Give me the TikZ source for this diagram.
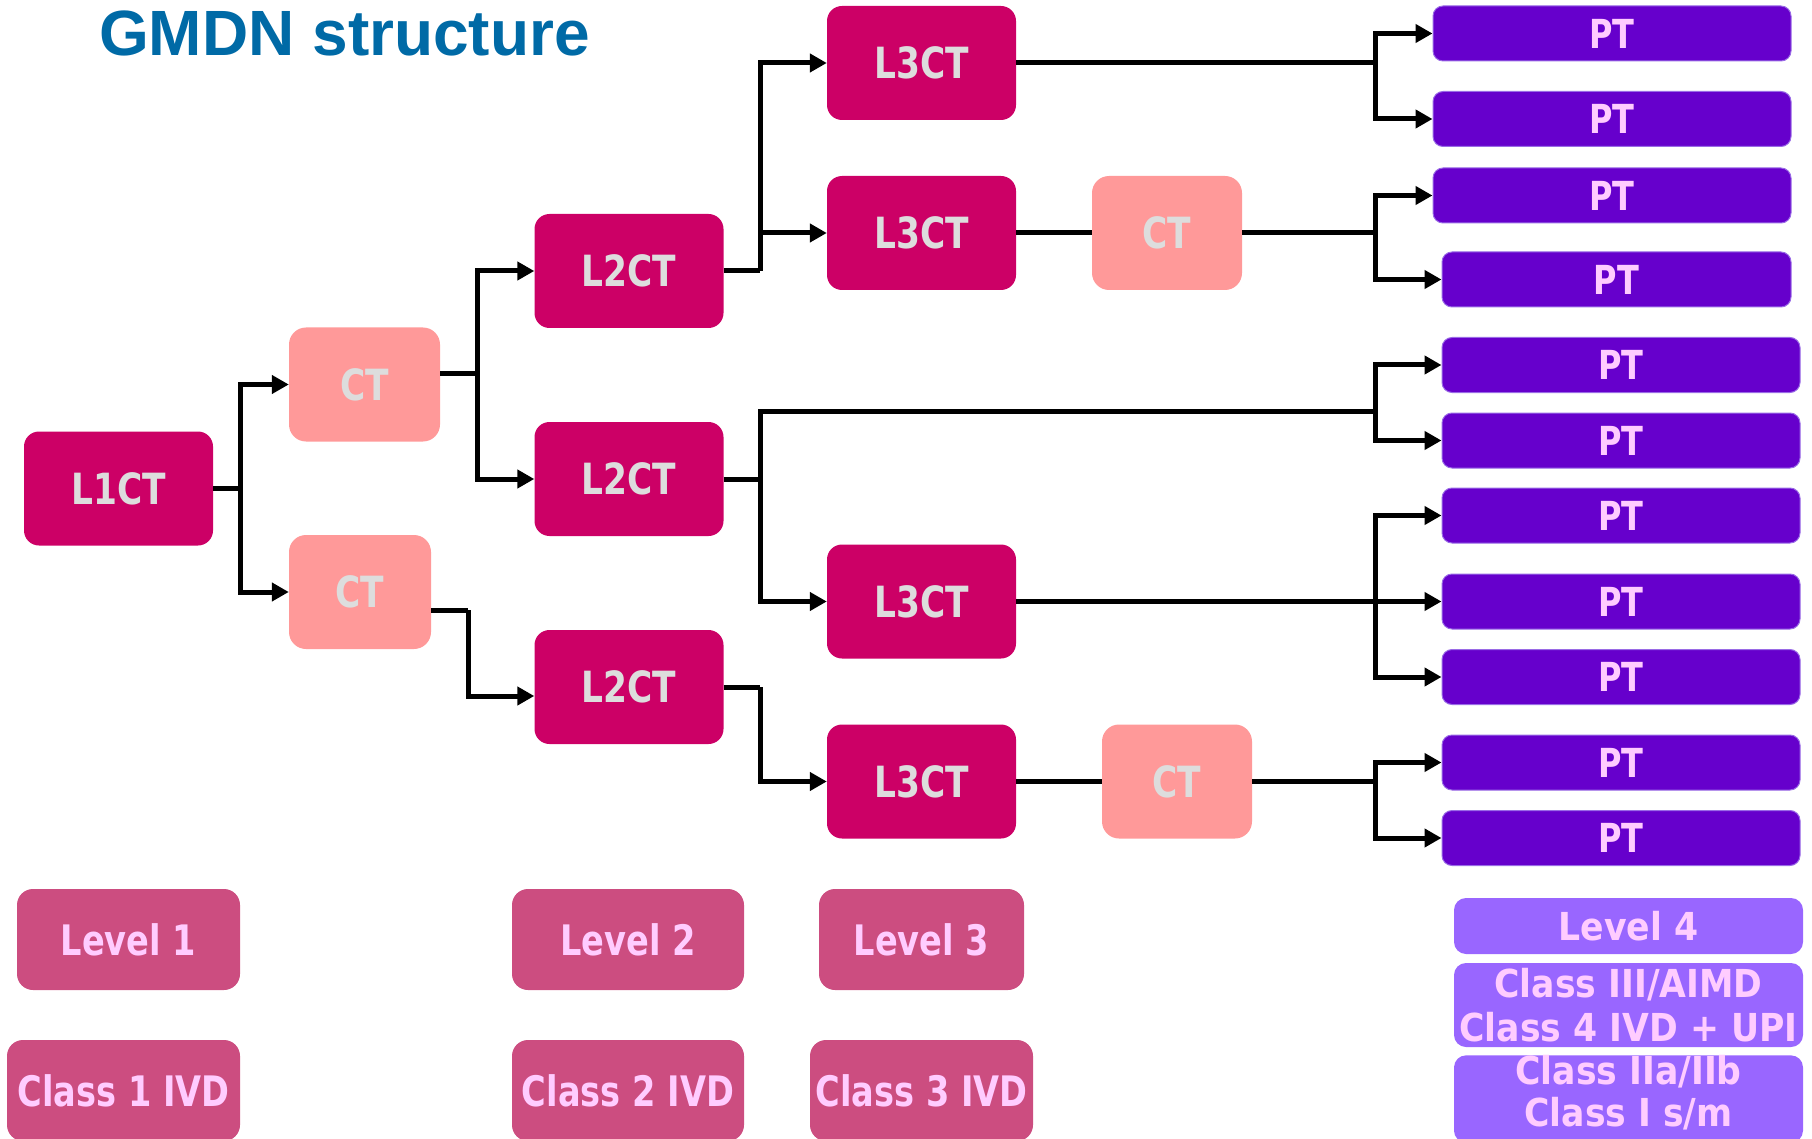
\documentclass[tikz,border=0pt]{standalone}
\usepackage{fontspec}
\usetikzlibrary{arrows.meta}
\newfontfamily\boxfont{DejaVu Sans}[FakeStretch=0.8]
\newfontfamily\lfourfont{DejaVu Sans}[FakeStretch=0.9]
\newfontfamily\titlefont{Liberation Sans}
\definecolor{lctcol}{HTML}{CC0066}
\definecolor{ctcol}{HTML}{FF9999}
\definecolor{ptcol}{HTML}{6600CC}
\definecolor{ptedge}{HTML}{9A6BE6}
\definecolor{levcol}{HTML}{CC4D80}
\definecolor{levfour}{HTML}{9966FF}
\definecolor{graytext}{HTML}{DDDDDD}
\definecolor{pinktext}{HTML}{FFCCFF}
\definecolor{titlecol}{HTML}{006AA6}
\begin{document}
\begin{tikzpicture}[x=1pt,y=-1pt,
  box/.style={rectangle, inner sep=0pt, align=center},
  lct/.style={box, fill=lctcol, rounded corners=15pt, minimum width=189pt, minimum height=114pt,
    text=graytext, font=\boxfont\bfseries\fontsize{43}{50}\selectfont},
  ctbox/.style={box, fill=ctcol, rounded corners=17pt, minimum width=150pt, minimum height=114pt,
    text=graytext, font=\boxfont\bfseries\fontsize{43}{50}\selectfont},
  ptbox/.style={box, fill=ptcol, draw=ptedge, line width=1pt, rounded corners=10pt, minimum width=358pt, minimum height=55pt,
    text=pinktext, font=\boxfont\bfseries\fontsize{40}{48}\selectfont},
  levbox/.style={box, fill=levcol, rounded corners=16pt, minimum height=101pt,
    text=pinktext, font=\boxfont\bfseries\fontsize{42}{50}\selectfont},
  levfourbox/.style={box, fill=levfour, rounded corners=12pt, minimum width=349pt,
    text=pinktext, font=\lfourfont\bfseries\fontsize{38.5}{44}\selectfont},
  conn/.style={line width=5pt, draw=black},
  arr/.style={conn, -{Triangle[length=17pt,width=18pt]}}
]
\useasboundingbox (0,0) rectangle (1812,1139);
\clip (0,0) rectangle (1812,1139);

% title
\node[anchor=base west, inner sep=0pt, text=titlecol,
  font=\titlefont\bfseries\fontsize{64}{72}\selectfont] (title) at (99,56) {GMDN structure};

% level 1
\node[lct] (l1) at (118.5,488.5) {L1CT};
% CT
\node[ctbox, minimum width=151pt] (ct1) at (364.5,384.5) {CT};
\node[ctbox, minimum width=142pt] (ct2) at (360,592) {CT};
% level 2
\node[lct] (l2a) at (629,271) {L2CT};
\node[lct] (l2b) at (629,479) {L2CT};
\node[lct] (l2c) at (629,687) {L2CT};
% level 3
\node[lct] (l3a) at (921.5,63) {L3CT};
\node[lct] (l3b) at (921.5,233) {L3CT};
\node[lct] (l3c) at (921.5,601.5) {L3CT};
\node[lct] (l3d) at (921.5,781.5) {L3CT};
% right CT
\node[ctbox] (cr1) at (1167,233) {CT};
\node[ctbox] (cr2) at (1177,781.5) {CT};
% PT boxes
\node[ptbox] (pt1) at (1612,33.5) {PT};
\node[ptbox] (pt2) at (1612,119) {PT};
\node[ptbox] (pt3) at (1612,195.5) {PT};
\node[ptbox, minimum width=349pt] (pt4) at (1616.5,279.5) {PT};
\node[ptbox] (pt5) at (1621,365) {PT};
\node[ptbox] (pt6) at (1621,440.5) {PT};
\node[ptbox] (pt7) at (1621,515.5) {PT};
\node[ptbox] (pt8) at (1621,601.5) {PT};
\node[ptbox] (pt9) at (1621,677) {PT};
\node[ptbox] (pt10) at (1621,762.5) {PT};
\node[ptbox] (pt11) at (1621,838) {PT};

% legend boxes
\node[levbox, minimum width=223pt] (lev1) at (128.5,939.5) {Level 1};
\node[levbox, minimum width=233pt] (cls1) at (123.5,1090.5) {Class 1 IVD};
\node[levbox, minimum width=232pt] (lev2) at (628,939.5) {Level 2};
\node[levbox, minimum width=232pt] (cls2) at (628,1090.5) {Class 2 IVD};
\node[levbox, minimum width=205pt] (lev3) at (921.5,939.5) {Level 3};
\node[levbox, minimum width=223pt] (cls3) at (921.5,1090.5) {Class 3 IVD};
\node[levfourbox, minimum height=56pt] (lev4) at (1628.5,926) {Level 4};
\node[levfourbox, minimum height=84pt] (cls4) at (1628.5,1005) {Class III/AIMD\\Class 4 IVD + UPI};
\node[levfourbox, minimum height=84pt, font=\lfourfont\bfseries\fontsize{38.5}{42}\selectfont,
  text depth=16pt] (cls5) at (1628.5,1099) {Class IIa/IIb\\Class I s/m};

% connectors
\coordinate (b1) at (240,488.5);
\draw[conn] (l1.east) -- (b1);
\draw[arr] (b1) |- (ct1.west);
\draw[arr] (b1) |- (ct2.west);

\coordinate (b2) at (477,374);
\draw[conn] (ct1.east |- b2) -- (b2);
\draw[arr] (b2) |- (l2a.west);
\draw[arr] (b2) |- (l2b.west);

\coordinate (b3) at (468,610);
\draw[conn] (ct2.east |- b3) -- (b3);
\draw[arr] (b3) |- ([yshift=-9pt]l2c.west);

\coordinate (b4) at (760,271);
\draw[conn] (l2a.east) -- (b4);
\draw[arr] (b4) |- (l3a.west);
\draw[arr] (b4) |- (l3b.west);

\coordinate (b5) at (760,479);
\coordinate (b5t) at (1375,411);
\draw[conn] (l2b.east) -- (b5);
\draw[conn] (b5) |- (b5t);
\draw[arr] (b5t) |- (pt5.west);
\draw[arr] (b5t) |- (pt6.west);
\draw[arr] (b5) |- (l3c.west);

\coordinate (b6) at (760,687);
\draw[conn] (l2c.east) -- (b6);
\draw[arr] (b6) |- (l3d.west);

\coordinate (b7) at (1375,63);
\draw[conn] (l3a.east) -- (b7);
\draw[arr] (b7) |- (pt1.west);
\draw[arr] (b7) |- (pt2.west);

\draw[conn] (l3b.east) -- (cr1.west);
\coordinate (b8) at (1375,233);
\draw[conn] (cr1.east) -- (b8);
\draw[arr] (b8) |- (pt3.west);
\draw[arr] (b8) |- (pt4.west);

\coordinate (b9) at (1375,601.5);
\draw[arr] (l3c.east) -- (pt8.west);
\draw[arr] (b9) |- (pt7.west);
\draw[arr] (b9) |- (pt9.west);

\draw[conn] (l3d.east) -- (cr2.west);
\coordinate (b10) at (1375,781.5);
\draw[conn] (cr2.east) -- (b10);
\draw[arr] (b10) |- (pt10.west);
\draw[arr] (b10) |- (pt11.west);
\end{tikzpicture}
\end{document}
